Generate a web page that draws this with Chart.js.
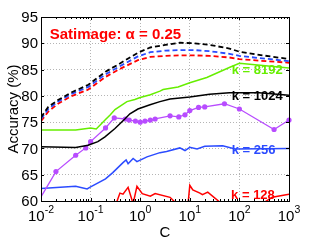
<!DOCTYPE html>
<html>
<head>
<meta charset="utf-8">
<script src="https://cdn.jsdelivr.net/npm/chart.js@4.4.0/dist/chart.umd.min.js"></script>
<style>
  html, body { margin: 0; padding: 0; background: #fff; }
</style>
</head>
<body>
<canvas id="chart" width="319" height="240"></canvas>
<script>
// values (C on a log axis, accuracy in %)
const cDash = [0.01, 0.014, 0.022, 0.04, 0.09, 0.2, 0.35, 0.9, 1.6, 3.2, 6.3, 12.6, 25, 63, 100, 250, 1000];
const accDashBlack = [75.9, 77.9, 79.2, 80.6, 82.1, 84.6, 85.9, 88.2, 89.2, 89.7, 90.1, 90.0, 89.7, 89.0, 88.4, 87.8, 87.0];
const accDashBlue = [75.6, 77.5, 78.9, 80.3, 81.7, 84.1, 85.4, 87.5, 88.3, 88.6, 88.7, 88.7, 88.5, 88.0, 87.6, 87.2, 86.6];
const accDashRed = [75.2, 77.0, 78.5, 79.9, 81.2, 83.6, 84.9, 86.8, 87.4, 87.6, 87.7, 87.7, 87.6, 87.3, 87.0, 86.7, 86.3];

const cGreen = [0.01, 0.05, 0.1, 0.13, 0.2, 0.25, 0.31, 0.54, 0.78, 1, 1.6, 2.5, 2.9, 5.8, 10, 22, 66, 100, 1000];
const accGreen = [73.5, 73.5, 73.9, 73.7, 75.5, 76.4, 77.4, 78.9, 79.3, 79.7, 80.2, 80.9, 81.2, 81.7, 82.5, 83.5, 85.5, 86.2, 85.3];

const cBlack = [0.01, 0.05, 0.089, 0.14, 0.195, 0.31, 0.49, 0.62, 0.9, 1.58, 2.5, 4, 10, 25, 63, 250, 1000];
const accBlack = [70.3, 70.2, 70.6, 71.3, 72.2, 73.8, 75.6, 76.6, 77.5, 78.3, 78.9, 79.4, 79.8, 80.3, 80.6, 80.6, 80.1];

const cPurple = [0.01, 0.02, 0.05, 0.08, 0.1, 0.2, 0.3, 0.5, 0.6, 0.8, 1, 1.25, 1.6, 2, 4, 6, 8, 10, 15, 20, 50, 100, 500, 1000];
const accPurple = [60.8, 65.6, 68.7, 70.1, 71.3, 73.9, 75.8, 75.6, 75.4, 75.2, 75.0, 75.2, 75.4, 75.6, 76.2, 76.0, 76.4, 77.2, 77.8, 77.9, 78.5, 77.5, 73.6, 75.4];

const cBlue = [0.01, 0.05, 0.085, 0.1, 0.2, 0.28, 0.45, 0.52, 0.57, 0.72, 0.86, 1.37, 2.5, 3.4, 6.3, 8, 10, 14, 20, 46, 82, 1000];
const accBlue = [62.4, 62.8, 62.3, 62.7, 64.2, 65.4, 67.3, 67.8, 67.1, 68.1, 67.5, 68.4, 69.2, 69.4, 70.1, 69.6, 70.2, 69.9, 70.4, 70.5, 69.9, 70.0];

const cRed = [0.3, 0.39, 0.45, 0.57, 0.72, 0.86, 1.1, 1.6, 2, 4, 5, 7, 9.3, 10, 11.5, 16, 18, 23, 40, 100, 300, 460, 1000];
const accRed = [58.5, 61.5, 61.3, 62.6, 59.5, 62.8, 61.4, 60.9, 61.4, 60.7, 59.8, 58.5, 59.8, 63.0, 62.1, 61.5, 61.2, 61.7, 59.8, 58.5, 59.6, 60.7, 61.3];

const xTicks = [0.01, 0.1, 1, 10, 100, 1000];
const xExponents = ['-2', '-1', '0', '1', '2', '3'];
const yTicks = [60, 65, 70, 75, 80, 85, 90, 95];

// in-plot text: left edge (C) and baseline (accuracy)
const notes = [
  { text: 'Satimage: \u03b1 = 0.25', c: 0.015, acc: 90.8, color: '#ff0000', size: 15 },
  { text: 'k = 8192', c: 70, acc: 84.1, color: '#66ee00', size: 13 },
  { text: 'k = 1024', c: 70, acc: 79.2, color: '#000000', size: 13 },
  { text: 'k = 256', c: 70, acc: 69.0, color: '#2b4bff', size: 13 },
  { text: 'k = 128', c: 68, acc: 60.4, color: '#ff0000', size: 13 }
];

const FONT = '"Liberation Sans", Arial, Helvetica, sans-serif';

function pts(xs, ys) {
  return xs.map((v, i) => ({ x: v, y: ys[i] }));
}

const frame = {
  id: 'frame',
  afterDatasetsDraw(chart) {
    const { ctx, chartArea: a, scales: { x, y } } = chart;
    ctx.save();

    // labels inside the axes
    ctx.textAlign = 'left';
    ctx.textBaseline = 'alphabetic';
    notes.forEach(n => {
      ctx.font = 'bold ' + n.size + 'px ' + FONT;
      ctx.fillStyle = n.color;
      ctx.fillText(n.text, x.getPixelForValue(n.c), y.getPixelForValue(n.acc));
    });

    // box
    ctx.strokeStyle = '#000';
    ctx.lineWidth = 1;
    ctx.strokeRect(a.left + 0.5, a.top + 0.5, a.right - a.left, a.bottom - a.top);

    // tick marks, pointing in
    ctx.beginPath();
    yTicks.forEach(v => {
      const py = Math.round(y.getPixelForValue(v)) + 0.5;
      ctx.moveTo(a.left, py); ctx.lineTo(a.left + 3, py);
      ctx.moveTo(a.right, py); ctx.lineTo(a.right - 3, py);
    });
    xTicks.forEach((v, i) => {
      const px = Math.round(x.getPixelForValue(v)) + 0.5;
      ctx.moveTo(px, a.bottom); ctx.lineTo(px, a.bottom - 3);
      ctx.moveTo(px, a.top); ctx.lineTo(px, a.top + 3);
      if (i < xTicks.length - 1) {
        for (let m = 2; m < 10; m++) {
          const qx = Math.round(x.getPixelForValue(v * m)) + 0.5;
          ctx.moveTo(qx, a.bottom); ctx.lineTo(qx, a.bottom - 2);
          ctx.moveTo(qx, a.top); ctx.lineTo(qx, a.top + 2);
        }
      }
    });
    ctx.stroke();

    // tick labels
    ctx.fillStyle = '#000';
    ctx.font = '15px ' + FONT;
    ctx.textAlign = 'right';
    ctx.textBaseline = 'middle';
    yTicks.forEach(v => {
      ctx.fillText(String(v), a.left - 3, y.getPixelForValue(v) + 1);
    });

    ctx.textAlign = 'left';
    ctx.textBaseline = 'alphabetic';
    xTicks.forEach((v, i) => {
      ctx.font = '15px ' + FONT;
      const wBase = ctx.measureText('10').width;
      ctx.font = '10.5px ' + FONT;
      const wExp = ctx.measureText(xExponents[i]).width;
      const left = x.getPixelForValue(v) - (wBase + wExp) / 2;
      ctx.font = '15px ' + FONT;
      ctx.fillText('10', left, a.bottom + 20);
      ctx.font = '10.5px ' + FONT;
      ctx.fillText(xExponents[i], left + wBase, a.bottom + 12);
    });

    // axis titles
    ctx.font = '15px ' + FONT;
    ctx.textAlign = 'center';
    ctx.fillText('C', (a.left + a.right) / 2, 237);
    ctx.translate(17.5, (a.top + a.bottom) / 2);
    ctx.rotate(-Math.PI / 2);
    ctx.fillText('Accuracy (%)', 0, 0);
    ctx.restore();
  }
};

new Chart(document.getElementById('chart'), {
  type: 'line',
  data: {
    datasets: [
      { data: pts(cDash, accDashBlack), borderColor: '#000000', borderDash: [5, 3], borderWidth: 1.8 },
      { data: pts(cDash, accDashBlue), borderColor: '#2b4bff', borderDash: [5, 3], borderWidth: 1.8 },
      { data: pts(cDash, accDashRed), borderColor: '#ff0000', borderDash: [5, 3], borderWidth: 1.8 },
      { data: pts(cGreen, accGreen), borderColor: '#66ee00', borderWidth: 1.5 },
      { data: pts(cBlack, accBlack), borderColor: '#000000', borderWidth: 1.5 },
      { data: pts(cPurple, accPurple), borderColor: '#b84cff', backgroundColor: '#b84cff',
        pointRadius: c => (c.dataIndex === 0 ? 0 : 2.6), pointBorderWidth: 0, borderWidth: 1.3,
        clip: { left: 0, top: 5, right: 5, bottom: 0 } },
      { data: pts(cBlue, accBlue), borderColor: '#2b4bff', borderWidth: 1.5 },
      { data: pts(cRed, accRed), borderColor: '#ff0000', borderWidth: 1.5, clip: 0 }
    ]
  },
  options: {
    responsive: false,
    animation: false,
    events: [],
    layout: { padding: { left: 41, right: 30, top: 17, bottom: 39 } },
    elements: { point: { radius: 0 }, line: { tension: 0, fill: false } },
    plugins: { legend: { display: false }, tooltip: { enabled: false } },
    scales: {
      x: {
        type: 'logarithmic',
        min: 0.01,
        max: 1000,
        afterBuildTicks: s => { s.ticks = xTicks.map(v => ({ value: v })); },
        ticks: { display: false },
        grid: { color: '#b4b4b4', lineWidth: 1, drawTicks: false },
        border: { display: false, dash: [1, 2] }
      },
      y: {
        min: 60,
        max: 95,
        afterBuildTicks: s => { s.ticks = yTicks.map(v => ({ value: v })); },
        ticks: { display: false },
        grid: { color: '#b4b4b4', lineWidth: 1, drawTicks: false },
        border: { display: false, dash: [1, 2] }
      }
    }
  },
  plugins: [frame]
});
</script>
</body>
</html>
